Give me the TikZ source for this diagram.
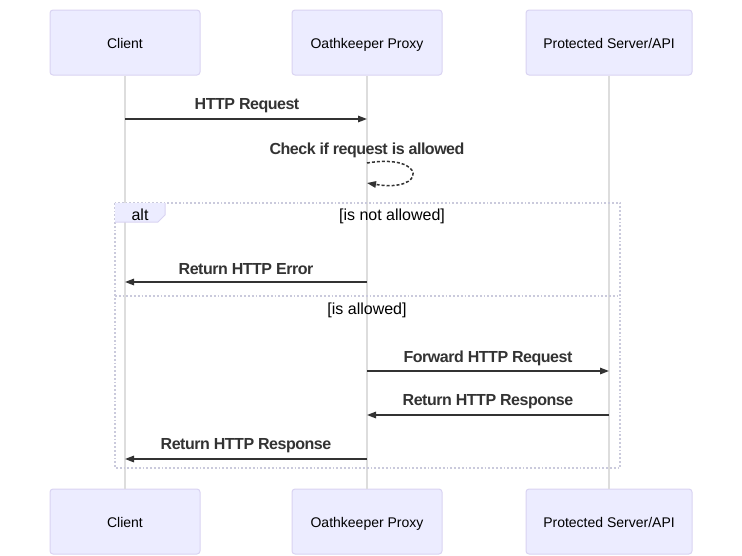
\documentclass[tikz,border=0pt]{standalone}
\usepackage{fontspec}
\setmainfont{Liberation Sans}
\usetikzlibrary{arrows.meta}
\definecolor{actfill}{HTML}{ECECFF}
\definecolor{actdraw}{HTML}{D9D3F2}
\definecolor{lifeline}{HTML}{DDDDDD}
\definecolor{msg}{HTML}{333333}
\definecolor{altline}{HTML}{CACADC}
\tikzset{
  actor/.style={draw=actdraw, line width=1pt, fill=actfill, rounded corners=3pt, minimum width=150pt, minimum height=65pt, inner sep=0pt, text height=11pt, text depth=0pt, font=\fontsize{14}{16}\selectfont, text=black},
  wideactor/.style={actor, minimum width=166pt},
  life/.style={draw=lifeline, line width=1.6pt},
  message/.style={draw=msg, line width=1.5pt, -{Triangle[length=9pt,width=6.5pt]}},
  msglabel/.style={font=\fontsize{16}{18}\selectfont\bfseries\addfontfeatures{LetterSpace=-3}, text=msg, inner sep=0pt},
  guard/.style={font=\fontsize{16}{18}\selectfont, text=black, inner sep=0pt},
  frame/.style={draw=altline, line width=1.8pt, dash pattern=on 1.8pt off 2pt},
}
\begin{document}
\begin{tikzpicture}[x=1pt, y=-1pt]
\useasboundingbox (0,0) rectangle (742,555);
% actors
\node[actor] (ct) at (125,42.5) {Client};
\node[actor] (pt) at (367,42.5) {Oathkeeper Proxy};
\node[wideactor] (st) at (609,42.5) {Protected Server/API};
\node[actor] (cb) at (125,521.5) {Client};
\node[actor] (pb) at (367,521.5) {Oathkeeper Proxy};
\node[wideactor] (sb) at (609,521.5) {Protected Server/API};
% lifelines
\draw[life] (ct.south) -- (cb.north);
\draw[life] (pt.south) -- (pb.north);
\draw[life] (st.south) -- (sb.north);
% alt frame
\draw[frame] (115,203) rectangle (620,468);
\draw[frame] (115,296) -- (620,296);
\fill[actfill] (115,203) -- (165,203) -- (165,215) -- (158,222) -- (115,222) -- cycle;
\draw[draw=actdraw, line width=1pt] (165,203) -- (165,215) -- (158,222) -- (115,222);
\node[guard] (altlbl) at (140,215) {alt};
\node[guard] (g1) at (392,216) {[is not allowed]};
\node[guard] (g2) at (367,310.5) {[is allowed]};
% message coordinates
\coordinate (m1a) at (125,119); \coordinate (m1b) at (367,119);
\coordinate (s1a) at (367,163); \coordinate (s1b) at (367,183);
\coordinate (m2a) at (367,282); \coordinate (m2b) at (125,282);
\coordinate (m3a) at (367,371); \coordinate (m3b) at (609,371);
\coordinate (m4a) at (609,415); \coordinate (m4b) at (367,415);
\coordinate (m5a) at (367,459); \coordinate (m5b) at (125,459);
% messages
\draw[message] (m1a) -- (m1b);
\node[msglabel] (l1) at (247,106) {HTTP Request};
\draw[message, dash pattern=on 3pt off 2pt] (s1a) .. controls (427,153) and (427,193) .. (s1b);
\node[msglabel] (l2) at (367,150) {Check if request is allowed};
\draw[message] (m2a) -- (m2b);
\node[msglabel] (l3) at (246,269) {Return HTTP Error};
\draw[message] (m3a) -- (m3b);
\node[msglabel] (l4) at (488,358) {Forward HTTP Request};
\draw[message] (m4a) -- (m4b);
\node[msglabel] (l5) at (488,402) {Return HTTP Response};
\draw[message] (m5a) -- (m5b);
\node[msglabel] (l6) at (246,446) {Return HTTP Response};
\end{tikzpicture}
\end{document}
